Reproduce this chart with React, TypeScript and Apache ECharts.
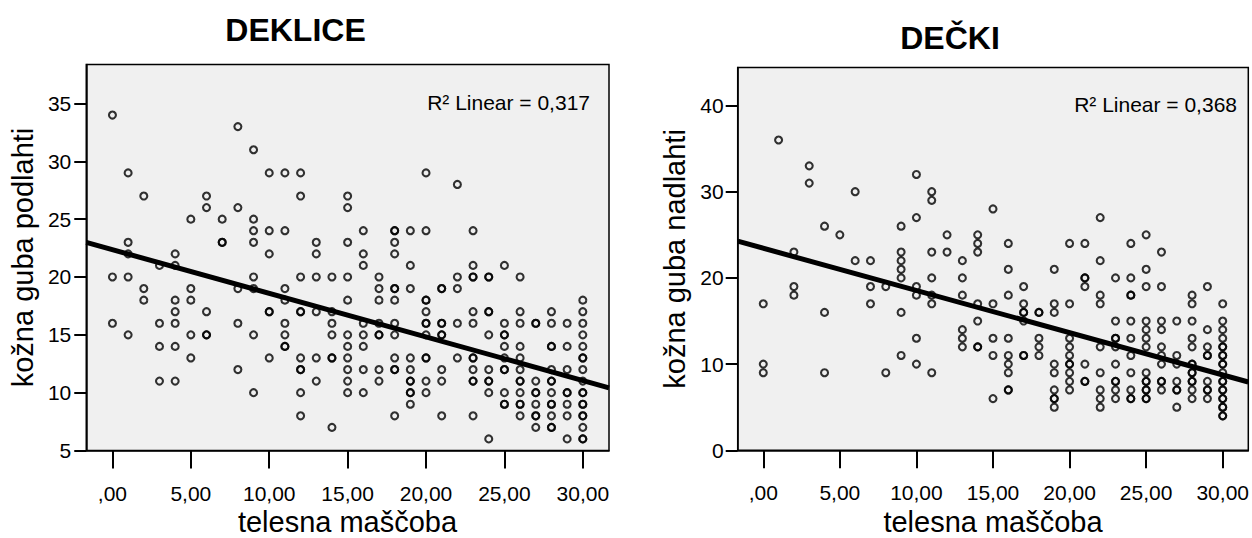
import React, { useEffect, useRef } from "react";
import * as echarts from "echarts";

// ---------- DATA ----------
const fatLevels = [0, 1, 2, 3, 4, 5, 6, 7, 8, 9, 10, 11, 12, 13, 14, 15, 16, 17, 18, 19, 20, 21, 22, 23, 24, 25, 26, 27, 28, 29, 30];

// DEKLICE: kožna guba podlahti, one list per fat level
const girlsForearm: number[][] = [
  [34, 20, 16],
  [29, 23, 22, 20, 15],
  [27, 19, 18],
  [21, 16, 14, 11],
  [22, 21, 18, 17, 16, 14, 11],
  [25, 19, 18, 15, 13],
  [27, 26, 17, 15, 15],
  [25, 23, 23],
  [33, 26, 19, 16, 12],
  [31, 25, 24, 23, 20, 19, 15, 10],
  [29, 24, 22, 17, 17, 13],
  [29, 24, 19, 18, 16, 15, 14, 14],
  [29, 27, 20, 17, 17, 13, 12, 12, 10, 8],
  [23, 22, 20, 17, 13, 11],
  [20, 17, 16, 15, 13, 13, 7],
  [27, 26, 23, 20, 18, 15, 14, 13, 12, 11, 10],
  [24, 22, 21, 16, 15, 14, 12, 10],
  [20, 19, 18, 16, 15, 15, 12, 11],
  [24, 24, 23, 22, 19, 19, 18, 16, 15, 13, 12, 12, 8],
  [24, 21, 19, 13, 12, 11, 11, 10, 10, 9],
  [29, 24, 18, 18, 17, 16, 16, 15, 13, 13, 11, 10],
  [19, 19, 16, 16, 15, 15, 12, 11, 8],
  [28, 20, 19, 16, 13],
  [24, 21, 20, 20, 17, 16, 13, 13, 12, 11, 11, 8],
  [20, 20, 17, 17, 15, 12, 11, 11, 10, 6],
  [21, 16, 15, 15, 14, 13, 12, 12, 10, 9, 9],
  [20, 17, 16, 14, 13, 12, 11, 11, 10, 9, 9, 8],
  [16, 16, 11, 10, 10, 9, 8, 8, 7],
  [17, 16, 14, 14, 12, 11, 11, 10, 9, 9, 8, 7, 7],
  [16, 14, 12, 10, 10, 9, 8, 6],
  [18, 17, 16, 15, 14, 13, 13, 12, 11, 10, 10, 9, 9, 8, 8, 7, 6, 6],
];

// DEČKI: kožna guba nadlahti, one list per fat level
const boysUpperArm: number[][] = [
  [17, 10, 9],
  [36],
  [23, 19, 18],
  [33, 31],
  [26, 16, 9],
  [25],
  [30, 22],
  [22, 19, 17],
  [19, 9],
  [26, 23, 22, 21, 20, 16, 11],
  [32, 27, 19, 18, 13, 10],
  [30, 29, 23, 20, 18, 17, 9],
  [25, 23],
  [22, 20, 18, 14, 13, 12],
  [25, 24, 23, 17, 15, 12, 12],
  [28, 17, 13, 11, 6],
  [24, 21, 18, 13, 11, 10, 9, 7, 7],
  [19, 17, 16, 16, 15, 11, 11],
  [16, 16, 13, 12, 11],
  [21, 17, 16, 10, 9, 7, 6, 6, 5],
  [24, 17, 13, 12, 11, 10, 10, 9, 8, 7],
  [24, 20, 20, 19, 10, 8, 8],
  [27, 22, 18, 17, 12, 9, 7, 6, 5],
  [20, 15, 13, 13, 12, 10, 8, 8, 7, 6],
  [24, 20, 18, 18, 15, 13, 11, 9, 7, 6, 6],
  [25, 21, 19, 15, 14, 13, 12, 9, 8, 8, 7, 7, 6, 6],
  [23, 19, 15, 14, 12, 11, 10, 8, 8, 7],
  [15, 11, 10, 8, 7, 7, 5],
  [18, 17, 15, 13, 12, 10, 10, 9, 9, 8, 8, 7, 6],
  [19, 14, 12, 11, 11, 8, 7, 7, 6],
  [17, 15, 14, 13, 12, 12, 11, 11, 10, 10, 9, 8, 8, 7, 7, 6, 6, 5, 5, 4, 4],
];

// fit lines (as shown on the chart)
const girlsFit = { intercept: 22.36, slope: -0.377, r2: "0,317" };
const boysFit = { intercept: 23.44, slope: -0.49, r2: "0,368" };

const xTicks = [0, 5, 10, 15, 20, 25, 30];
const xTickLabels = [",00", "5,00", "10,00", "15,00", "20,00", "25,00", "30,00"];
const girlsYTicks = [5, 10, 15, 20, 25, 30, 35];
const boysYTicks = [0, 10, 20, 30, 40];

const titles = ["DEKLICE", "DEČKI"];
const xName = "telesna maščoba";
const yNames = ["kožna guba podlahti", "kožna guba nadlahti"];

// ---------- CHART ----------
const FONT = "Liberation Sans, Arial, sans-serif";
const X_MIN = -1.67;
const X_MAX = 31.67;

type Panel = {
  groups: number[][];
  fit: { intercept: number; slope: number; r2: string };
  yMin: number;
  yMax: number;
  yTicks: number[];
  title: string;
  yName: string;
  grid: { left: number; top: number; width: number; height: number };
  yLabelMargin: number;
  yNameGap: number;
  titlePos: number[];
  r2Pos: number[];
  xNamePos: number[];
};

function toPoints(groups: number[][]) {
  const pts: number[][] = [];
  groups.forEach((vals, i) => vals.forEach((v) => pts.push([fatLevels[i], v])));
  return pts;
}

function buildOption(p: Panel) {
  const fitData = [
    [X_MIN, p.fit.intercept + p.fit.slope * X_MIN],
    [X_MAX, p.fit.intercept + p.fit.slope * X_MAX],
  ];
  const txt = (pos: number[], text: string, font: string, align: string) => ({
    type: "text",
    x: pos[0],
    y: pos[1],
    style: { text, font, fill: "#000", align, verticalAlign: "middle" },
  });
  return {
    animation: false,
    grid: { ...p.grid, show: true, backgroundColor: "#f0f0f0", borderColor: "#000", borderWidth: 1.5 },
    xAxis: {
      type: "value",
      min: X_MIN,
      max: X_MAX,
      splitLine: { show: false },
      axisLine: { show: true, onZero: false, lineStyle: { color: "#000", width: 1.5 } },
      axisTick: { show: true, length: 18, customValues: xTicks, lineStyle: { color: "#000", width: 2 } },
      axisLabel: {
        customValues: xTicks,
        margin: 32,
        color: "#000",
        fontFamily: FONT,
        fontSize: 21,
        formatter: (v: number) => xTickLabels[xTicks.indexOf(v)] ?? "",
      },
    },
    yAxis: {
      type: "value",
      min: p.yMin,
      max: p.yMax,
      name: p.yName,
      nameLocation: "middle",
      nameRotate: 90,
      nameGap: p.yNameGap,
      nameTextStyle: { color: "#000", fontFamily: FONT, fontSize: 29 },
      splitLine: { show: false },
      axisLine: { show: true, onZero: false, lineStyle: { color: "#000", width: 1.5 } },
      axisTick: { show: true, length: 12, customValues: p.yTicks, lineStyle: { color: "#000", width: 2 } },
      axisLabel: {
        customValues: p.yTicks,
        margin: p.yLabelMargin,
        color: "#000",
        fontFamily: FONT,
        fontSize: 21,
        formatter: (v: number) => String(v),
      },
    },
    series: [
      {
        type: "scatter",
        symbol: "circle",
        symbolSize: 7,
        itemStyle: { color: "rgba(0,0,0,0)", borderColor: "#000", borderWidth: 2.1 },
        silent: true,
        data: toPoints(p.groups),
      },
      {
        type: "line",
        symbol: "none",
        lineStyle: { color: "#000", width: 5 },
        silent: true,
        z: 5,
        data: fitData,
      },
    ],
    graphic: [
      txt(p.titlePos, p.title, `bold 32px ${FONT}`, "center"),
      txt(p.r2Pos, `R² Linear = ${p.fit.r2}`, `21px ${FONT}`, "right"),
      txt(p.xNamePos, xName, `29px ${FONT}`, "center"),
    ],
  };
}

const panels: Panel[] = [
  {
    groups: girlsForearm,
    fit: girlsFit,
    yMin: 5,
    yMax: 38.37,
    yTicks: girlsYTicks,
    title: titles[0],
    yName: yNames[0],
    grid: { left: 86, top: 64.5, width: 523, height: 386 },
    yLabelMargin: 15,
    yNameGap: 43.5,
    titlePos: [295.5, 30],
    r2Pos: [590, 102],
    xNamePos: [347.5, 522],
  },
  {
    groups: boysUpperArm,
    fit: boysFit,
    yMin: 0,
    yMax: 44.4,
    yTicks: boysYTicks,
    title: titles[1],
    yName: yNames[1],
    grid: { left: 97.7, top: 67.6, width: 511.3, height: 382.7 },
    yLabelMargin: 14,
    yNameGap: 47,
    titlePos: [310, 38],
    r2Pos: [597, 104],
    xNamePos: [353, 522],
  },
];

export default function App() {
  const leftRef = useRef<HTMLDivElement>(null);
  const rightRef = useRef<HTMLDivElement>(null);
  useEffect(() => {
    if (!leftRef.current || !rightRef.current) return;
    const charts = [leftRef.current, rightRef.current].map((el, i) => {
      const c = echarts.init(el, null, { renderer: "svg" });
      c.setOption(buildOption(panels[i]));
      return c;
    });
    return () => charts.forEach((c) => c.dispose());
  }, []);
  return (
    <>
      <div ref={leftRef} style={{ position: "absolute", left: 0, top: 0, width: 640, height: 538 }} />
      <div ref={rightRef} style={{ position: "absolute", left: 640, top: 0, width: 612, height: 538 }} />
    </>
  );
}
